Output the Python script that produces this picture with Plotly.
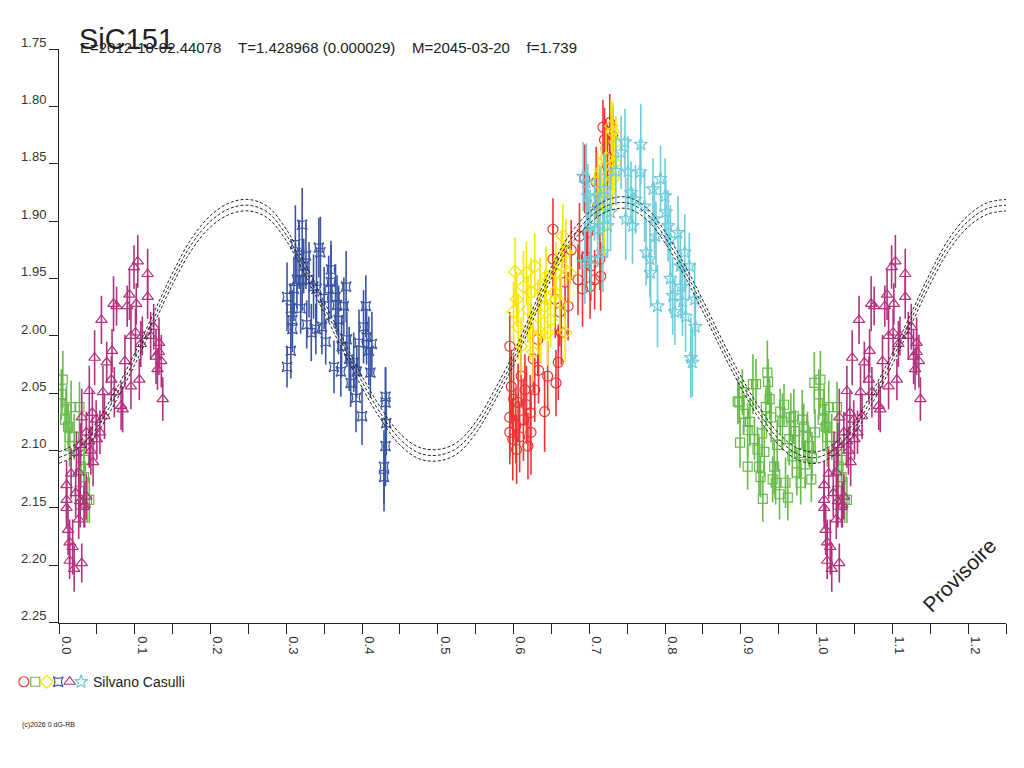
import plotly.graph_objects as go

# --- tick labels ---
x_ticks = [0.0, 0.1, 0.2, 0.3, 0.4, 0.5, 0.6, 0.7, 0.8, 0.9, 1.0, 1.1, 1.2]
y_ticks = [1.75, 1.80, 1.85, 1.90, 1.95, 2.00, 2.05, 2.10, 2.15, 2.20, 2.25]

# --- model curve (phase, magnitude) ---
model_phase = [0.000, 0.025, 0.050, 0.075, 0.100, 0.125, 0.150, 0.175, 0.200, 0.225,
               0.250, 0.275, 0.300, 0.325, 0.350, 0.375, 0.400, 0.425, 0.450, 0.475,
               0.500, 0.525, 0.550, 0.575, 0.600, 0.625, 0.650, 0.675, 0.700, 0.725,
               0.750, 0.775, 0.800, 0.825, 0.850, 0.875, 0.900, 0.925, 0.950, 0.975]
model_mag = [2.106, 2.098, 2.080, 2.052, 2.020, 1.985, 1.950, 1.920, 1.900, 1.889,
             1.886, 1.892, 1.912, 1.942, 1.975, 2.008, 2.040, 2.068, 2.090, 2.102,
             2.104, 2.098, 2.080, 2.052, 2.020, 1.982, 1.945, 1.916, 1.897, 1.886,
             1.884, 1.893, 1.914, 1.942, 1.974, 2.008, 2.040, 2.068, 2.090, 2.103]
model_err = 0.005

# --- observations: red circles ---
red_phase = [0.595, 0.595, 0.595, 0.597, 0.600, 0.604, 0.606, 0.610, 0.613, 0.615,
             0.619, 0.622, 0.623, 0.626, 0.628, 0.632, 0.641, 0.645, 0.652, 0.652,
             0.655, 0.656, 0.659, 0.661, 0.663, 0.668, 0.672, 0.676, 0.685, 0.687,
             0.691, 0.694, 0.696, 0.698, 0.701, 0.702, 0.707, 0.709, 0.711, 0.714,
             0.715, 0.718, 0.720, 0.722, 0.724, 0.727, 0.728, 0.731, 0.720, 0.599,
             0.603, 0.608, 0.617, 0.633]
red_mag = [2.009, 2.071, 2.084, 2.044, 2.055, 2.099, 2.058, 2.035, 2.073, 2.047,
           2.096, 2.067, 2.084, 2.020, 2.047, 2.003, 2.066, 2.035, 1.907, 1.933,
           1.968, 2.041, 2.023, 1.979, 1.997, 1.953, 1.974, 1.925, 1.951, 1.913,
           1.959, 1.863, 1.931, 1.910, 1.957, 1.939, 1.951, 1.866, 1.887, 1.933,
           1.948, 1.818, 1.829, 1.837, 1.852, 1.814, 1.846, 1.826, 1.863, 2.090,
           2.078, 2.088, 2.060, 2.030]
red_err = [0.030, 0.035, 0.028, 0.032, 0.038, 0.030, 0.034, 0.027, 0.036, 0.031,
           0.029, 0.033, 0.037, 0.030, 0.028, 0.032, 0.035, 0.030, 0.027, 0.031,
           0.034, 0.029, 0.033, 0.030, 0.028, 0.032, 0.030, 0.026, 0.031, 0.029,
           0.033, 0.030, 0.027, 0.032, 0.028, 0.030, 0.026, 0.031, 0.029, 0.027,
           0.030, 0.024, 0.028, 0.026, 0.029, 0.025, 0.027, 0.026, 0.030, 0.036,
           0.033, 0.031, 0.034, 0.029]

# --- green squares ---
green_phase = [0.896, 0.898, 0.899, 0.902, 0.904, 0.909, 0.909, 0.916, 0.918, 0.920,
               0.922, 0.924, 0.926, 0.929, 0.931, 0.933, 0.935, 0.936, 0.938, 0.940,
               0.942, 0.944, 0.946, 0.951, 0.952, 0.955, 0.957, 0.959, 0.962, 0.964,
               0.966, 0.970, 0.972, 0.974, 0.977, 0.979, 0.981, 0.983, 0.988, 0.990,
               0.994, 0.997, 0.998, 0.003, 0.005, 0.008, 0.010, 0.012, 0.014, 0.016,
               0.020, 0.027, 0.029, 0.033, 0.037, 0.033, 0.027, 0.040, 0.028, 0.912,
               0.928, 0.948, 0.968, 0.985, 0.993]
green_mag = [2.057, 2.058, 2.093, 2.049, 2.068, 2.082, 2.114, 2.042, 2.090, 2.042,
             2.099, 2.114, 2.123, 2.142, 2.101, 2.062, 2.032, 2.040, 2.055, 2.071,
             2.125, 2.114, 2.128, 2.138, 2.066, 2.075, 2.060, 2.128, 2.141, 2.090,
             2.071, 2.070, 2.083, 2.119, 2.102, 2.128, 2.073, 2.079, 2.088, 2.096,
             2.106, 2.041, 2.084, 2.051, 2.038, 2.073, 2.064, 2.079, 2.096, 2.062,
             2.088, 2.062, 2.114, 2.123, 2.143, 2.108, 2.135, 2.143, 2.147, 2.075,
             2.085, 2.095, 2.105, 2.112, 2.125]
green_err = [0.020, 0.018, 0.022, 0.020, 0.017, 0.024, 0.020, 0.026, 0.018, 0.022,
             0.020, 0.025, 0.018, 0.020, 0.022, 0.017, 0.028, 0.020, 0.018, 0.022,
             0.020, 0.024, 0.019, 0.022, 0.020, 0.025, 0.018, 0.022, 0.020, 0.023,
             0.021, 0.024, 0.018, 0.020, 0.022, 0.019, 0.026, 0.020, 0.022, 0.018,
             0.020, 0.027, 0.020, 0.022, 0.025, 0.019, 0.021, 0.020, 0.018, 0.023,
             0.020, 0.022, 0.019, 0.021, 0.020, 0.018, 0.022, 0.020, 0.019, 0.021,
             0.020, 0.022, 0.019, 0.021, 0.020]

# --- yellow diamonds ---
yellow_phase = [0.600, 0.602, 0.604, 0.606, 0.610, 0.613, 0.617, 0.619, 0.622, 0.623,
                0.626, 0.628, 0.632, 0.635, 0.636, 0.641, 0.643, 0.645, 0.649, 0.654,
                0.656, 0.661, 0.663, 0.665, 0.668, 0.669, 0.674, 0.729, 0.731, 0.735,
                0.734, 0.731, 0.711, 0.714, 0.718, 0.720, 0.707, 0.727, 0.722, 0.716]
yellow_mag = [1.979, 1.944, 1.968, 1.992, 2.009, 1.957, 1.945, 1.977, 1.997, 1.962,
              2.014, 1.939, 1.983, 1.957, 1.997, 1.974, 1.948, 1.997, 1.986, 1.962,
              1.945, 1.971, 1.939, 1.913, 1.997, 1.927, 1.945, 1.817, 1.822, 1.831,
              1.849, 1.863, 1.866, 1.878, 1.890, 1.904, 1.881, 1.874, 1.845, 1.855]
yellow_err = [0.026, 0.030, 0.024, 0.028, 0.025, 0.031, 0.027, 0.029, 0.024, 0.030,
              0.026, 0.028, 0.032, 0.025, 0.027, 0.030, 0.026, 0.029, 0.024, 0.031,
              0.027, 0.025, 0.030, 0.028, 0.026, 0.029, 0.027, 0.022, 0.025, 0.023,
              0.026, 0.024, 0.027, 0.025, 0.028, 0.026, 0.024, 0.027, 0.025, 0.023]

# --- blue four-point stars ---
blue_phase = [0.301, 0.306, 0.301, 0.306, 0.308, 0.308, 0.310, 0.312, 0.314, 0.317,
              0.319, 0.321, 0.321, 0.323, 0.326, 0.327, 0.330, 0.333, 0.336, 0.339,
              0.340, 0.343, 0.345, 0.347, 0.350, 0.352, 0.356, 0.359, 0.359, 0.363,
              0.365, 0.367, 0.369, 0.372, 0.373, 0.376, 0.379, 0.380, 0.383, 0.385,
              0.389, 0.392, 0.393, 0.396, 0.400, 0.402, 0.405, 0.406, 0.409, 0.411,
              0.413, 0.431, 0.431, 0.429, 0.431, 0.432, 0.429]
blue_mag = [2.027, 2.013, 1.966, 1.976, 1.986, 1.994, 1.959, 1.920, 1.951, 1.929,
            1.976, 1.903, 1.951, 1.939, 1.930, 1.990, 1.951, 1.997, 1.957, 1.994,
            1.959, 1.923, 1.927, 1.992, 1.967, 2.005, 1.959, 1.942, 1.953, 2.027,
            1.966, 1.973, 1.986, 2.031, 2.009, 1.974, 1.957, 2.003, 2.020, 2.041,
            2.023, 2.054, 2.031, 2.006, 2.070, 1.992, 1.974, 2.001, 2.013, 2.032,
            2.007, 2.053, 2.058, 2.114, 2.096, 2.076, 2.123]
blue_err = [0.018, 0.024, 0.030, 0.022, 0.026, 0.020, 0.028, 0.034, 0.025, 0.030,
            0.022, 0.032, 0.027, 0.024, 0.029, 0.021, 0.033, 0.025, 0.028, 0.022,
            0.030, 0.026, 0.031, 0.024, 0.027, 0.020, 0.029, 0.025, 0.032, 0.023,
            0.028, 0.026, 0.030, 0.022, 0.027, 0.025, 0.031, 0.024, 0.028, 0.021,
            0.026, 0.030, 0.023, 0.029, 0.025, 0.032, 0.027, 0.024, 0.030, 0.022,
            0.028, 0.026, 0.030, 0.032, 0.035, 0.028, 0.030]

# --- magenta triangles ---
magenta_phase = [0.010, 0.012, 0.014, 0.014, 0.018, 0.010, 0.022, 0.026, 0.028, 0.034,
                 0.030, 0.036, 0.040, 0.044, 0.049, 0.047, 0.054, 0.056, 0.058, 0.063,
                 0.069, 0.073, 0.070, 0.072, 0.076, 0.082, 0.084, 0.087, 0.090, 0.093,
                 0.095, 0.095, 0.099, 0.101, 0.102, 0.104, 0.108, 0.110, 0.117, 0.117,
                 0.121, 0.128, 0.130, 0.132, 0.132, 0.137, 0.135, 0.125, 0.106, 0.010,
                 0.023, 0.026, 0.036, 0.033, 0.040, 0.045, 0.030, 0.020, 0.016, 0.028,
                 0.042, 0.050, 0.060]
magenta_mag = [2.150, 2.169, 2.180, 2.196, 2.184, 2.143, 2.137, 2.160, 2.144, 2.147,
               2.071, 2.084, 2.048, 2.067, 2.073, 2.019, 2.084, 1.986, 2.049, 2.023,
               2.038, 2.049, 2.013, 1.972, 1.974, 2.061, 2.064, 2.022, 1.974, 1.964,
               2.044, 2.000, 1.940, 1.997, 1.972, 1.935, 2.007, 2.000, 1.946, 1.966,
               2.000, 2.018, 2.029, 2.014, 2.006, 2.055, 2.022, 1.992, 2.038, 2.130,
               2.102, 2.119, 2.140, 2.149, 2.092, 2.110, 2.198, 2.203, 2.120, 2.095,
               2.100, 2.090, 2.070]
magenta_err = [0.018, 0.022, 0.020, 0.016, 0.024, 0.019, 0.021, 0.017, 0.023, 0.020,
               0.025, 0.018, 0.022, 0.020, 0.017, 0.024, 0.019, 0.021, 0.023, 0.018,
               0.020, 0.022, 0.019, 0.024, 0.017, 0.021, 0.020, 0.023, 0.018, 0.022,
               0.020, 0.025, 0.019, 0.021, 0.018, 0.023, 0.020, 0.017, 0.022, 0.019,
               0.021, 0.024, 0.018, 0.020, 0.022, 0.019, 0.023, 0.020, 0.018, 0.021,
               0.019, 0.022, 0.020, 0.018, 0.023, 0.021, 0.017, 0.020, 0.022, 0.019,
               0.021, 0.018, 0.020]

# --- cyan stars ---
cyan_phase = [0.692, 0.696, 0.698, 0.701, 0.694, 0.702, 0.707, 0.711, 0.714, 0.718,
              0.720, 0.724, 0.728, 0.735, 0.742, 0.747, 0.748, 0.751, 0.755, 0.757,
              0.761, 0.767, 0.768, 0.773, 0.775, 0.780, 0.781, 0.784, 0.786, 0.788,
              0.790, 0.794, 0.800, 0.801, 0.804, 0.807, 0.810, 0.813, 0.817, 0.820,
              0.821, 0.826, 0.827, 0.832, 0.834, 0.836, 0.839, 0.840, 0.807, 0.823]
cyan_mag = [1.861, 1.866, 1.878, 1.904, 1.936, 1.933, 1.890, 1.907, 1.881, 1.927,
            1.872, 1.904, 1.892, 1.856, 1.840, 1.831, 1.898, 1.857, 1.875, 1.904,
            1.881, 1.857, 1.833, 1.887, 1.927, 1.933, 1.945, 1.872, 1.898, 1.913,
            1.974, 1.863, 1.878, 1.892, 1.904, 1.916, 1.965, 1.979, 1.910, 1.939,
            1.957, 1.927, 1.983, 1.939, 2.019, 2.023, 1.968, 1.992, 1.950, 1.970]
cyan_err = [0.030, 0.034, 0.028, 0.032, 0.036, 0.030, 0.027, 0.033, 0.029, 0.035,
            0.031, 0.028, 0.034, 0.030, 0.032, 0.029, 0.036, 0.031, 0.027, 0.033,
            0.030, 0.028, 0.035, 0.031, 0.029, 0.034, 0.030, 0.027, 0.032, 0.030,
            0.036, 0.029, 0.033, 0.028, 0.031, 0.030, 0.034, 0.029, 0.032, 0.030,
            0.028, 0.033, 0.031, 0.029, 0.035, 0.030, 0.032, 0.028, 0.031, 0.030]

series = [
    (red_phase, red_mag, red_err, '#ee3333', 'circle-open', 10),
    (green_phase, green_mag, green_err, '#66bb48', 'square-open', 9),
    (yellow_phase, yellow_mag, yellow_err, '#f5e600', 'diamond-open', 10),
    (blue_phase, blue_mag, blue_err, '#3a55a4', 'star-square-open', 9),
    (magenta_phase, magenta_mag, magenta_err, '#b3307e', 'triangle-up-open', 10),
    (cyan_phase, cyan_mag, cyan_err, '#6cccdc', 'star-open', 10),
]

FONT = 'Liberation Sans, Arial, sans-serif'
OFF = 8  # page margin around the figure div
W, H = 1024, 768
SY = 768 / (H + 2 * OFF)  # the taller page is squeezed back to the window height
SHIFT = 15  # extra drop of the figure seen in the screenshots


def px(x):
    return (x - OFF) / W


def py(y):
    return 1 - ((y - SHIFT) / SY - OFF) / H


# plot area in screen pixels
PL, PR, PT, PB = 59, 1006, 50, 623


def wrap(phase, mag, err):
    # repeat the first quarter of the cycle after phase 1
    xs, ys, es = list(phase), list(mag), list(err)
    for p, m, e in zip(phase, mag, err):
        if p <= 0.25:
            xs.append(p + 1)
            ys.append(m)
            es.append(e)
    return xs, ys, es


fig = go.Figure()

for ph, mg, er, color, symbol, size in series:
    xs, ys, es = wrap(ph, mg, er)
    fig.add_trace(go.Scatter(
        x=xs, y=ys, mode='markers',
        marker=dict(symbol=symbol, size=size, color=color, line=dict(color=color, width=1.2)),
        error_y=dict(type='data', array=es, color=color, thickness=1.6, width=0),
        showlegend=False, hoverinfo='skip'))

# model curve with its envelope
mx, my, _ = wrap(model_phase, model_mag, model_mag)
order = sorted(range(len(mx)), key=lambda i: mx[i])
mx = [mx[i] for i in order]
my = [my[i] for i in order]
for off in (-model_err, 0.0, model_err):
    fig.add_trace(go.Scatter(
        x=mx, y=[v + off for v in my], mode='lines',
        line=dict(color='#222222', width=1, dash='3px,2px', shape='spline'),
        showlegend=False, hoverinfo='skip'))

# legend symbols on a small helper axis
for i, (_, _, _, color, symbol, size) in enumerate(series):
    fig.add_trace(go.Scatter(
        x=[i], y=[0], mode='markers', xaxis='x2', yaxis='y2',
        marker=dict(symbol=symbol, size=size, color=color, line=dict(color=color, width=1.2)),
        showlegend=False, hoverinfo='skip'))

fig.update_layout(
    width=W, height=H,
    margin=dict(l=0, r=0, t=0, b=0),
    paper_bgcolor='white', plot_bgcolor='white',
    font=dict(family=FONT, size=13, color='#222222'),
    xaxis=dict(
        domain=[px(PL), px(PR)], range=[0, 1.25],
        tickvals=x_ticks, ticktext=['%.1f' % v for v in x_ticks],
        tickangle=90, ticks='outside', ticklen=10, tickcolor='#222222',
        ticklabelshift=7, tickfont=dict(size=13, color='#333333'),
        minor=dict(dtick=0.05, tick0=0, ticks='outside', ticklen=10, tickcolor='#222222'),
        showline=True, linecolor='#222222', linewidth=1,
        showgrid=False, zeroline=False),
    yaxis=dict(
        domain=[py(PB), py(PT)], range=[2.25, 1.75],
        tickvals=y_ticks, ticktext=['%.2f' % v for v in y_ticks],
        ticks='outside', ticklen=9, tickcolor='#222222',
        ticklabelshift=7, ticklabelstandoff=0,
        tickfont=dict(size=13, color='#333333'),
        showline=True, linecolor='#222222', linewidth=1,
        showgrid=False, zeroline=False),
    xaxis2=dict(domain=[px(17), px(88)], range=[-0.6, 5.6], visible=False, anchor='y2'),
    yaxis2=dict(domain=[py(692), py(672)], range=[-1, 1], visible=False, anchor='x2'),
)

# the title sits as high as the figure allows
fig.add_annotation(text='SiC151', xref='paper', yref='paper', x=px(78), y=1,
                   xanchor='left', yanchor='top', showarrow=False, borderpad=0,
                   font=dict(family=FONT, size=29, color='#222222'))
sub = '\u00a0\u00a0\u00a0\u00a0'.join(['E=2012-10-02.44078', 'T=1.428968 (0.000029)',
                                       'M=2045-03-20', 'f=1.739'])
fig.add_annotation(text=sub, xref='paper', yref='paper', x=px(78), y=py(48),
                   xanchor='left', yanchor='middle', showarrow=False,
                   font=dict(family=FONT, size=15, color='#222222'))
fig.add_annotation(text='Provisoire', xref='paper', yref='paper', x=px(959), y=py(576),
                   xanchor='center', yanchor='middle', showarrow=False, textangle=-45,
                   font=dict(family=FONT, size=21, color='#222222'))
fig.add_annotation(text='Silvano Casulli', xref='paper', yref='paper', x=px(91), y=py(682),
                   xanchor='left', yanchor='middle', showarrow=False,
                   font=dict(family=FONT, size=14, color='#222222'))
fig.add_annotation(text='(c)2026 0 dG-RB', xref='paper', yref='paper', x=px(20), y=py(725),
                   xanchor='left', yanchor='middle', showarrow=False,
                   font=dict(family=FONT, size=7, color='#222222'))

fig.write_html("out.html")
